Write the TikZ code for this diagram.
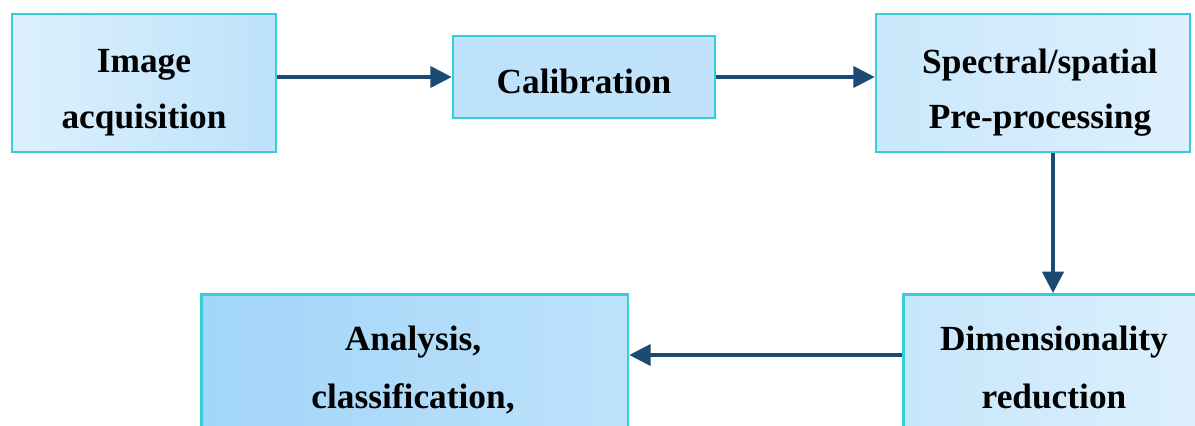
\documentclass[tikz,border=0pt]{standalone}
\usepackage{fontspec}
\setmainfont{Liberation Serif}
\usetikzlibrary{arrows.meta,calc}
\definecolor{boxborder}{HTML}{36CCD8}
\definecolor{arrowcol}{HTML}{1B4A72}
\definecolor{lightA}{HTML}{DDF0FC}
\definecolor{midA}{HTML}{BDE2FB}
\definecolor{darkA}{HTML}{A2D5F8}
\tikzset{
  stagebox/.style={draw=boxborder, line width=2pt, inner sep=0pt},
  stagetext/.style={inner sep=0pt, anchor=base, font=\fontsize{26.5}{42}\selectfont\bfseries, text=black},
  arr/.style={draw=arrowcol, line width=2.3pt, -{Triangle[length=16pt,width=16pt]}},
}
\begin{document}
\begin{tikzpicture}[x=0.75pt,y=-0.75pt]
\clip (0,0) rectangle (1195,425);
\fill[white] (0,0) rectangle (1195,425);
\node[stagebox, left color=lightA, right color=midA, minimum width=198pt, minimum height=103.5pt] (b1) at (144,83) {};
\node[stagebox, left color=midA, right color=midA!90!lightA, minimum width=196.5pt, minimum height=61.5pt] (b2) at (584,77) {};
\node[stagebox, left color=midA!60!lightA, right color=lightA, minimum width=235.5pt, minimum height=103.5pt] (b3) at (1033,83) {};
\node[stagebox, left color=midA!70!lightA, right color=lightA, minimum width=228pt, minimum height=115.5pt, anchor=north west] (b4) at (902,293) {};
\node[stagebox, left color=darkA, right color=midA, minimum width=320pt, minimum height=115.5pt, anchor=north west] (b5) at (200,293) {};
\node[stagetext] (t1a) at (144,72) {Image};
\node[stagetext] (t1b) at (144,128) {acquisition};
\node[stagetext] (t2) at (584,93) {Calibration};
\node[stagetext] (t3a) at (1040,73) {Spectral/spatial};
\node[stagetext] (t3b) at (1040,128) {Pre-processing};
\node[stagetext] (t4a) at (1054,350) {Dimensionality};
\node[stagetext] (t4b) at (1054,408) {reduction};
\node[stagetext] (t5a) at (413,350) {Analysis,};
\node[stagetext] (t5b) at (413,408) {classification,};
\coordinate (m) at (0,355);
\coordinate (vx) at (1053,0);
\draw[arr] (b1.east |- b2.west) -- (b2.west);
\draw[arr] (b2.east) -- (b3.west |- b2.east);
\draw[arr] (b3.south -| vx) -- (b4.north -| vx);
\draw[arr] (b4.west |- m) -- (b5.east |- m);
\end{tikzpicture}
\end{document}
